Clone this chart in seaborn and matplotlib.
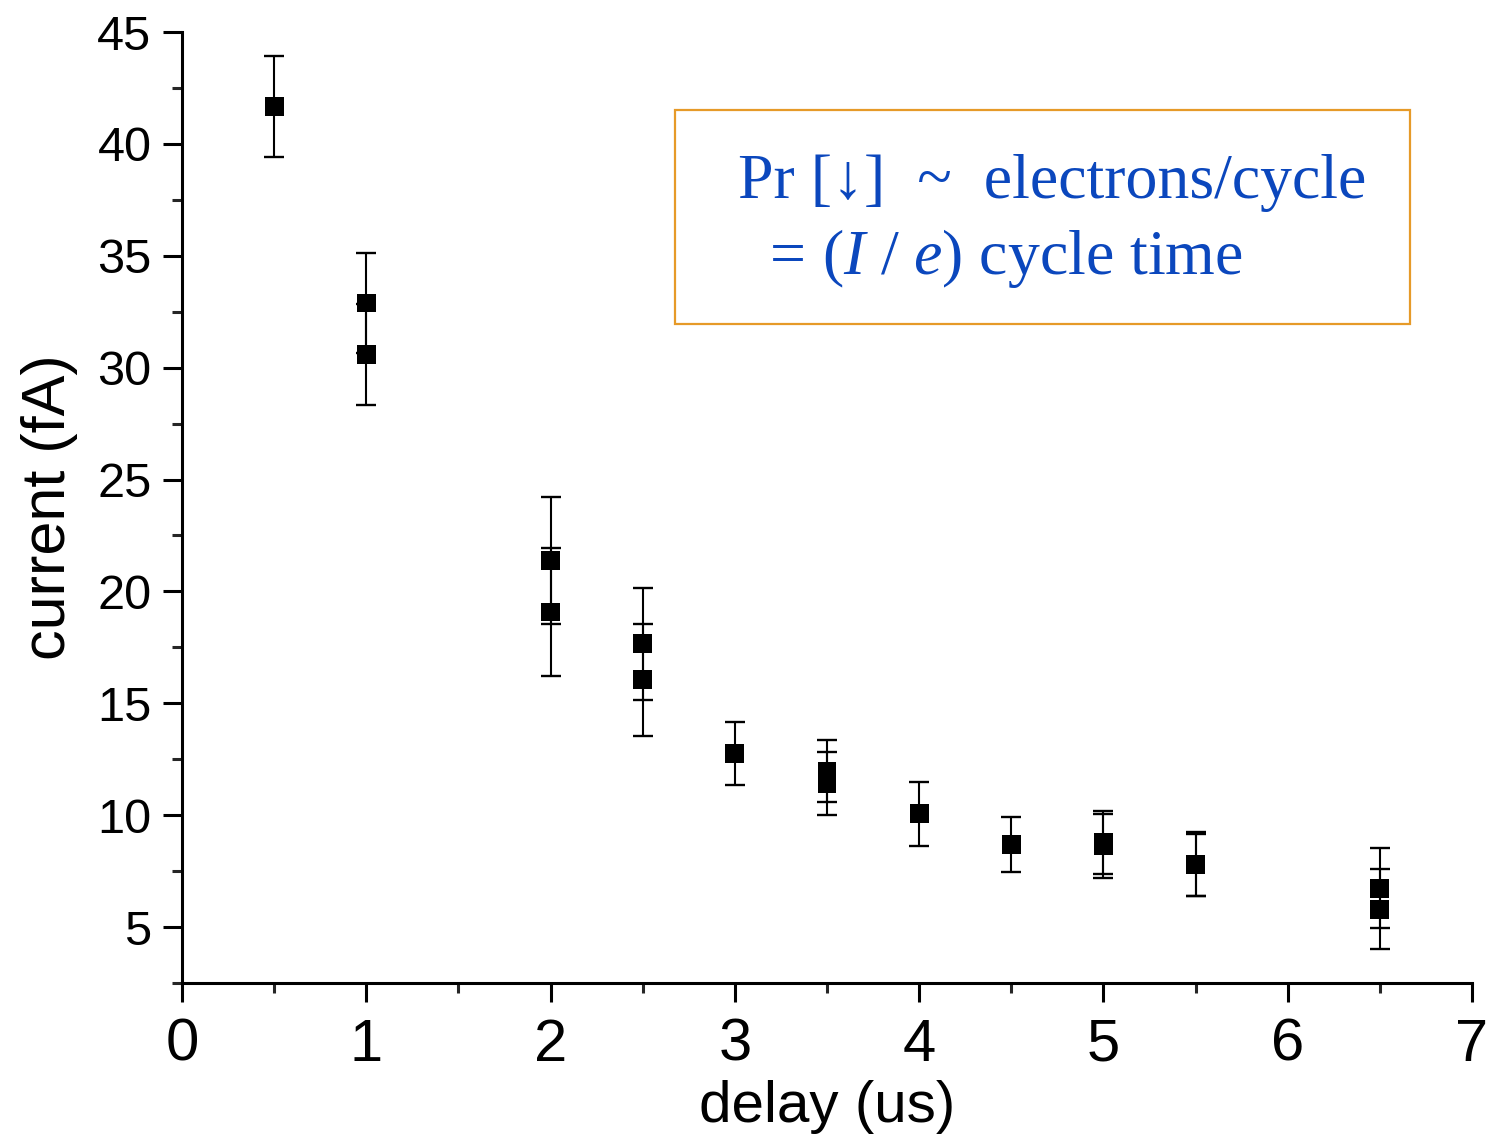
import matplotlib
matplotlib.use("Agg")
import matplotlib.pyplot as plt
import matplotlib.patches as mpatches
from matplotlib.ticker import MultipleLocator
import seaborn as sns
import pandas as pd

# ---- data ----
delay = [0.5, 1, 1, 2, 2, 2.5, 2.5, 3, 3.5, 3.5, 4, 4.5, 5, 5, 5.5, 5.5, 6.5, 6.5]
current = [41.68, 32.89, 30.60, 21.38, 19.08, 17.66, 16.06, 12.74, 11.97, 11.42,
           10.06, 8.69, 8.79, 8.63, 7.82, 7.78, 6.74, 5.80]
err = [2.25, 2.25, 2.26, 2.83, 2.84, 2.50, 2.50, 1.41, 1.40, 1.42,
       1.42, 1.24, 1.41, 1.43, 1.43, 1.38, 1.80, 1.80]
xticks = [0, 1, 2, 3, 4, 5, 6, 7]
yticks = [5, 10, 15, 20, 25, 30, 35, 40, 45]
xlabel = "delay (us)"
ylabel = "current (fA)"
line1 = "Pr [\u2193]  ~  electrons/cycle"
line2 = r"$=\,(\mathit{I}\,\,/\,\,\mathit{e})$ cycle time"

df = pd.DataFrame({"delay": delay, "current": current, "err": err})

sns.set_theme(style="ticks")
plt.rcParams["font.family"] = ["Liberation Sans", "DejaVu Sans"]
plt.rcParams["mathtext.fontset"] = "custom"
plt.rcParams["mathtext.rm"] = "Liberation Serif"
plt.rcParams["mathtext.it"] = "Liberation Serif:italic"

fig = plt.figure(figsize=(14.89, 11.40), dpi=100)
ax = fig.add_axes([182 / 1489, 1 - 983 / 1140, (1472 - 182) / 1489, (983 - 32) / 1140])

ax.errorbar(df["delay"], df["current"], yerr=df["err"], fmt="none",
            ecolor="black", elinewidth=1.5, capsize=7, capthick=1.7, zorder=2)
sns.scatterplot(data=df, x="delay", y="current", marker="s", s=185,
                color="black", edgecolor="none", linewidth=0, ax=ax, zorder=3)

ax.set_xlim(0, 7)
ax.set_ylim(2.5, 45)
ax.set_xticks(xticks)
ax.set_yticks(yticks)
ax.xaxis.set_minor_locator(MultipleLocator(0.5))
ax.yaxis.set_minor_locator(MultipleLocator(2.5))
ax.tick_params(which="major", direction="out", length=14, width=2.2, colors="black")
ax.tick_params(which="minor", direction="out", length=7, width=2.2)
ax.tick_params(axis="y", which="major", labelsize=35, pad=8)
ax.tick_params(axis="x", which="major", labelsize=43, pad=11)

for side in ["top", "right"]:
    ax.spines[side].set_visible(False)
for side in ["left", "bottom"]:
    ax.spines[side].set_linewidth(2.2)
    ax.spines[side].set_color("black")

ax.set_xlabel(xlabel, fontsize=42, labelpad=5, color="black")
ax.set_ylabel(ylabel, fontsize=44, labelpad=14, color="black")

# annotation box
rect = mpatches.Rectangle((675 / 1489, 1 - 324 / 1140), 735 / 1489, 214 / 1140,
                          transform=fig.transFigure, fill=False,
                          edgecolor="#E69A28", linewidth=1.6, zorder=5)
fig.patches.append(rect)
blue = "#0B47BD"
fig.text(738 / 1489, 1 - 183 / 1140, line1, fontsize=46, color=blue,
         family=["Liberation Serif", "DejaVu Serif"], va="center", ha="left")
fig.text(760 / 1489, 1 - 258 / 1140, line2, fontsize=46, color=blue,
         family=["Liberation Serif", "DejaVu Serif"], va="center", ha="left")

fig.savefig("out.png", dpi=100, facecolor="white")
